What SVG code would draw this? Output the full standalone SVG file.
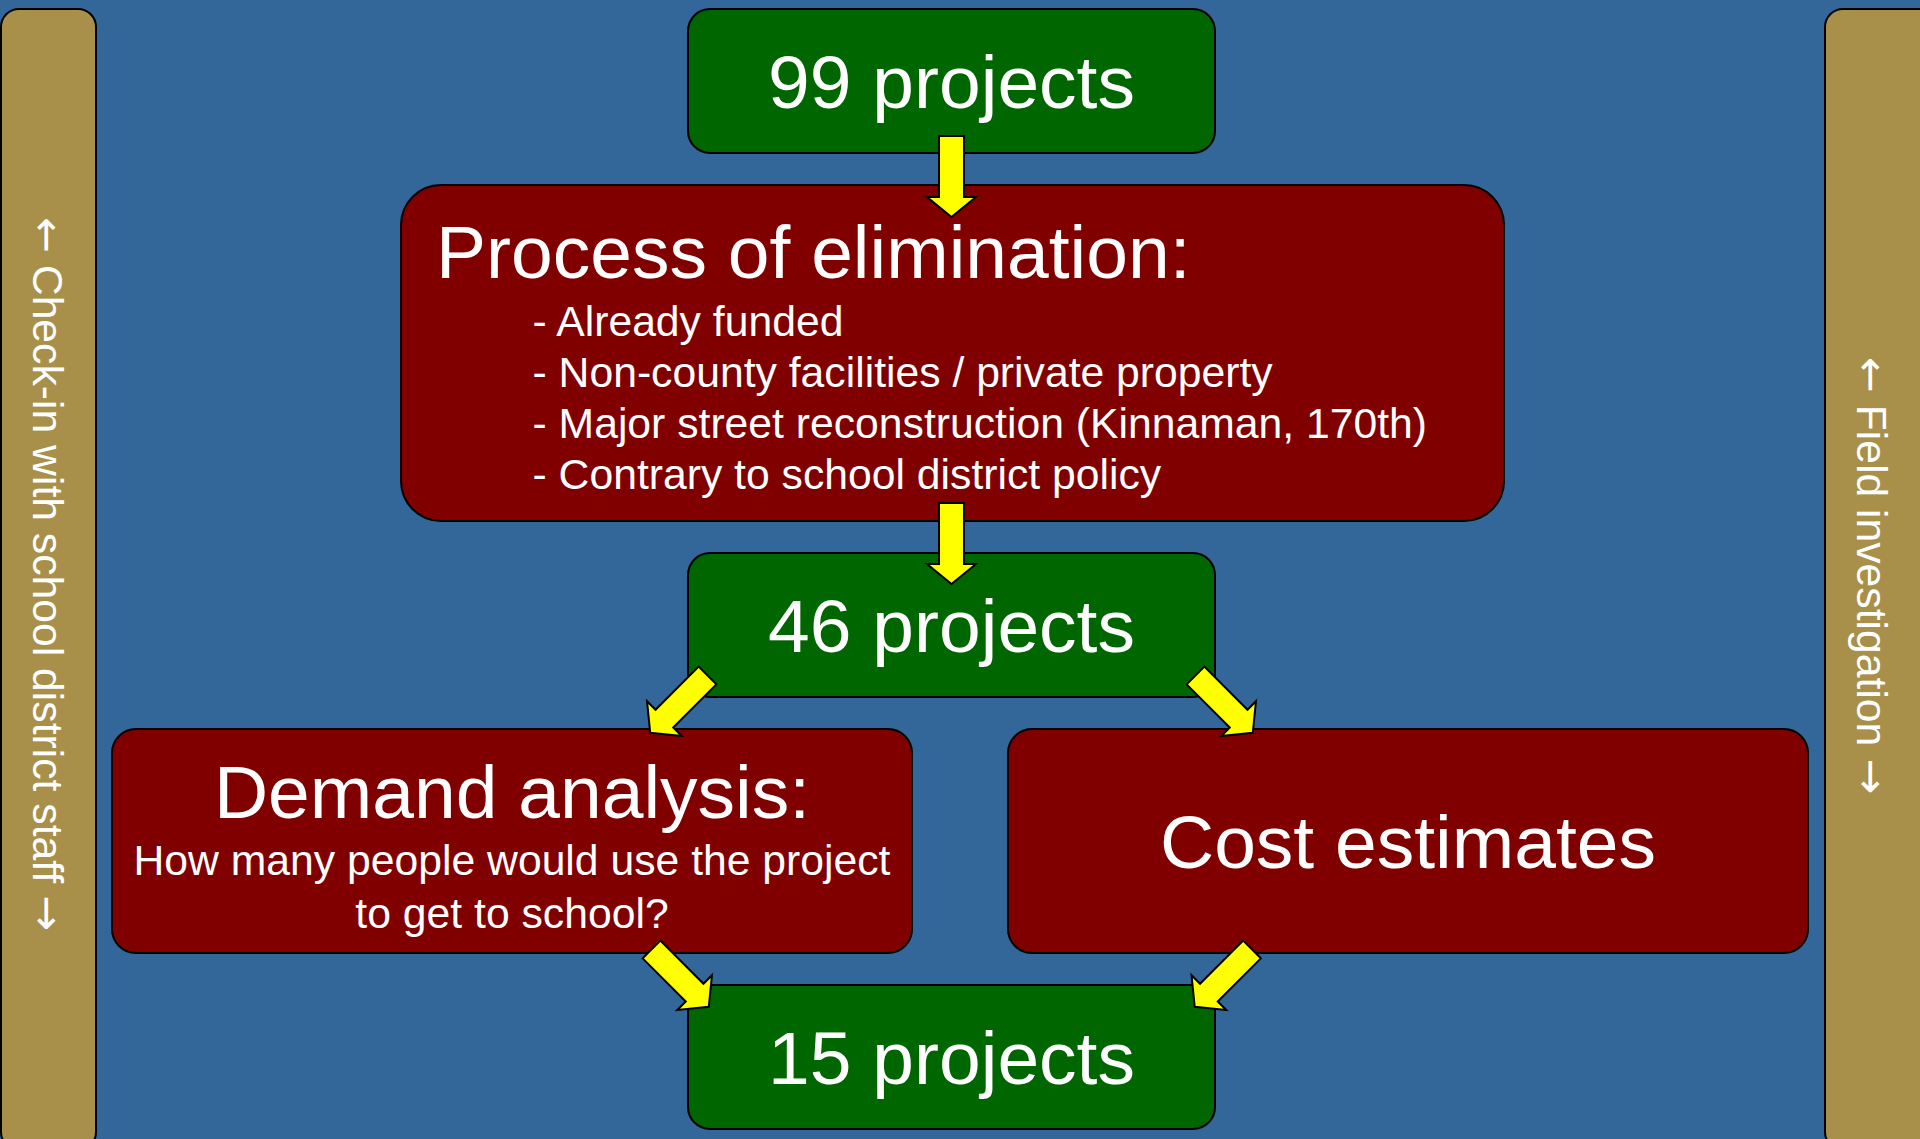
<svg xmlns="http://www.w3.org/2000/svg" width="1920" height="1139" viewBox="0 0 1920 1139">
  <style>
    .bg { fill: #336699; }
    .side { fill: #A8904A; stroke: #000000; stroke-width: 2; }
    .green { fill: #006600; stroke: #000000; stroke-width: 2; }
    .red { fill: #800000; stroke: #000000; stroke-width: 2; }
    .arrow { fill: #FFFF00; stroke: #000000; stroke-width: 2; stroke-linejoin: miter; }
    text { font-family: "Liberation Sans", Arial, sans-serif; fill: #FFFFFF; }
    .big { font-size: 75px; }
    .small { font-size: 42.7px; }
    .mid { text-anchor: middle; }
    .glyph { font-family: "DejaVu Sans", sans-serif; }
  </style>
  <defs>
    <path id="arr" d="M -12.5 0 L 12.5 0 L 12.5 61 L 24.5 61 L 0 81 L -24.5 61 L -12.5 61 Z"/>
  </defs>

  <rect class="bg" x="0" y="0" width="1920" height="1139"/>

  <g id="side-left">
    <rect class="side" x="1" y="9" width="95" height="1141" rx="18" ry="18"/>
    <text class="small mid" transform="translate(47.5,574) rotate(90)" x="0" y="15"><tspan class="glyph">←</tspan> Check-in with school district staff <tspan class="glyph">→</tspan></text>
  </g>

  <g id="side-right">
    <rect class="side" x="1825" y="9" width="115" height="1141" rx="18" ry="18"/>
    <text class="small mid" transform="translate(1872,575.5) rotate(90)" x="0" y="15"><tspan class="glyph">←</tspan> Field investigation <tspan class="glyph">→</tspan></text>
  </g>

  <g id="n99">
    <rect class="green" x="688" y="9" width="527" height="144" rx="22" ry="22"/>
    <text class="big mid" x="951.5" y="108">99 projects</text>
  </g>

  <g id="elimination">
    <rect class="red" x="401" y="185" width="1103" height="336" rx="40" ry="40"/>
    <text class="big" x="436" y="278">Process of elimination:</text>
    <text class="small" x="532.5" y="336">- Already funded</text>
    <text class="small" x="532.5" y="387">- Non-county facilities / private property</text>
    <text class="small" x="532.5" y="438">- Major street reconstruction (Kinnaman, 170th)</text>
    <text class="small" x="532.5" y="489">- Contrary to school district policy</text>
  </g>

  <g id="n46">
    <rect class="green" x="688" y="553" width="527" height="144" rx="22" ry="22"/>
    <text class="big mid" x="951.5" y="652">46 projects</text>
  </g>

  <g id="demand">
    <rect class="red" x="112" y="729" width="800" height="224" rx="24" ry="24"/>
    <text class="big mid" x="512" y="818">Demand analysis:</text>
    <text class="small mid" x="512" y="875">How many people would use the project</text>
    <text class="small mid" x="512" y="928">to get to school?</text>
  </g>

  <g id="cost">
    <rect class="red" x="1008" y="729" width="800" height="224" rx="24" ry="24"/>
    <text class="big mid" x="1408" y="868">Cost estimates</text>
  </g>

  <g id="n15">
    <rect class="green" x="688" y="985" width="527" height="144" rx="22" ry="22"/>
    <text class="big mid" x="951.5" y="1084">15 projects</text>
  </g>

  <g id="connectors">
    <use href="#arr" class="arrow" transform="translate(951.5,136)"/>
    <use href="#arr" class="arrow" transform="translate(951.5,503)"/>
    <use href="#arr" class="arrow" transform="translate(707.5,675.5) rotate(45)"/>
    <use href="#arr" class="arrow" transform="translate(1195.5,675.5) rotate(-45)"/>
    <use href="#arr" class="arrow" transform="translate(651.5,949.5) rotate(-45)"/>
    <use href="#arr" class="arrow" transform="translate(1252,949.5) rotate(45)"/>
  </g>
</svg>
